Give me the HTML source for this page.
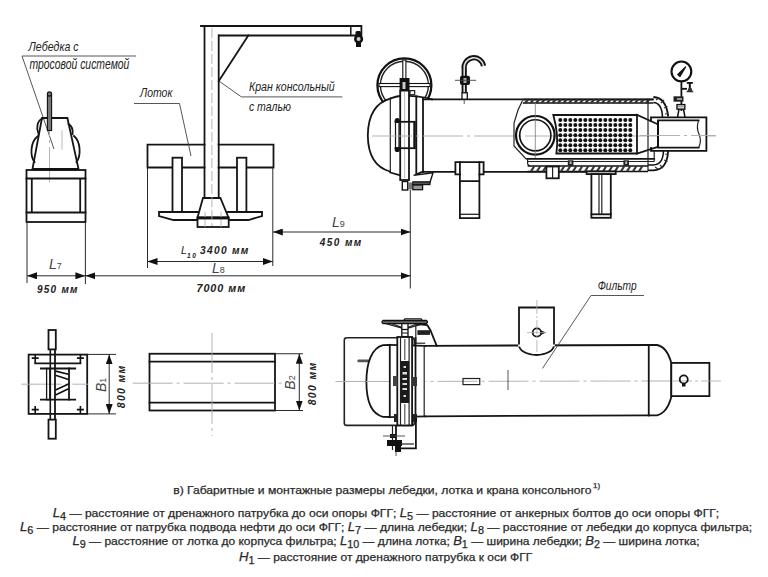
<!DOCTYPE html>
<html><head><meta charset="utf-8">
<style>
html,body{margin:0;padding:0;background:#fff;}
body{width:768px;height:577px;overflow:hidden;position:relative;}
svg{position:absolute;left:0;top:0;}
.t{font-family:"Liberation Sans",sans-serif;}
.k{stroke:#151515;fill:none;stroke-width:1.8;stroke-linecap:square;}
.m{stroke:#222;fill:none;stroke-width:1.2;}
.n{stroke:#444;fill:none;stroke-width:0.9;}
.d{stroke:#2a2a2a;fill:none;stroke-width:1;}
.c{stroke:#aaa;fill:none;stroke-width:0.9;stroke-dasharray:40 4 3 4;}
.lbl{font-family:"Liberation Sans",sans-serif;font-style:italic;font-size:11.5px;fill:#222;}
.dim{font-family:"Liberation Sans",sans-serif;font-style:italic;font-weight:bold;font-size:10px;fill:#222;letter-spacing:1.6px;}
.Ln{font-family:"Liberation Sans",sans-serif;font-style:italic;font-size:14px;fill:#444;}
.cap{font-family:"Liberation Sans",sans-serif;font-size:11.2px;fill:#2a2a2a;stroke:#2a2a2a;stroke-width:0.25px;}
</style></head><body>
<svg width="768" height="577" viewBox="0 0 768 577">
<defs>
<marker id="ae" viewBox="0 0 10 7" refX="10" refY="3.5" markerWidth="10" markerHeight="7" markerUnits="userSpaceOnUse" orient="auto"><path d="M0,0 L10,3.5 L0,7 Z" fill="#111"/></marker>
<marker id="as" viewBox="0 0 10 7" refX="0" refY="3.5" markerWidth="10" markerHeight="7" markerUnits="userSpaceOnUse" orient="auto"><path d="M10,0 L0,3.5 L10,7 Z" fill="#111"/></marker>
</defs>

<!-- ============ WINCH SIDE VIEW ============ -->
<g id="winch">
  <polyline class="n" points="136,56 22,56 54,149"/>
  <text class="lbl" x="28.6" y="50.6" textLength="50" lengthAdjust="spacingAndGlyphs" style="font-size:13px">Лебедка с</text>
  <text class="lbl" x="29.4" y="69.4" textLength="100" lengthAdjust="spacingAndGlyphs" style="font-size:14px">тросовой системой</text>
  <polygon class="k" points="42,118 67.4,118 78.5,168.8 32.5,168.8"/>
  <path class="k" d="M43,118.5 C37,120 36,128 38.5,134 M38,136 C30,142 30,156 34.5,162 M68.5,124 C72,126 73,130 72.5,134 M74,136 C81,142 81,156 76.5,162"/>
  <line class="c" x1="49.5" y1="96" x2="49.5" y2="182"/>
  <line x1="62" y1="130" x2="62" y2="150" stroke="#aaa" stroke-width="0.8"/>
  <rect x="47.4" y="95" width="4.2" height="35.5" fill="#777" stroke="#111" stroke-width="1.1"/>
  <circle cx="49.5" cy="94" r="2.1" fill="#777" stroke="#111" stroke-width="1.1"/>
  <rect class="k" x="26.5" y="170" width="59" height="52"/>
  <line class="k" x1="26.5" y1="178.5" x2="85.5" y2="178.5"/>
  <line class="k" x1="26.5" y1="212.5" x2="85.5" y2="212.5"/>
  <line x1="31.8" y1="178.5" x2="31.8" y2="212.5" stroke="#151515" stroke-width="1.8"/>
  <line x1="80.2" y1="178.5" x2="80.2" y2="212.5" stroke="#151515" stroke-width="1.8"/>
  <line x1="33" y1="169.3" x2="78" y2="169.3" stroke="#111" stroke-width="2.6"/>
</g>

<!-- ============ CRANE + LOTOK SIDE ============ -->
<g id="crane">
  <polyline class="k" points="201,26 361.4,26 361.4,35.5 218.9,35.5"/>
  <line x1="350.8" y1="26" x2="350.8" y2="35.5" stroke="#151515" stroke-width="1.5"/>
  <rect x="355.5" y="31" width="5.5" height="5" rx="1.5" fill="#111"/>
  <rect x="356" y="41" width="5" height="6" fill="#111"/>
  <circle cx="358.6" cy="39" r="3.3" fill="#ccc" stroke="#111" stroke-width="2.6"/>
  <line class="k" x1="248.3" y1="35.5" x2="218.8" y2="81"/>
  <polyline class="n" points="218.8,81 241.4,96.9 342.3,96.9"/>
  <text class="lbl" x="248.9" y="91" textLength="85.7" lengthAdjust="spacingAndGlyphs" style="font-size:12.5px">Кран консольный</text>
  <text class="lbl" x="248.9" y="110.8" textLength="42" lengthAdjust="spacingAndGlyphs" style="font-size:13.5px">с талью</text>
  <!-- lotok rect -->
  <polyline class="k" points="204.5,144.6 147.5,144.6 147.5,167.5 204.5,167.5"/>
  <polyline class="k" points="218.6,144.6 273.5,144.6 273.5,167.5 218.6,167.5"/>
  <polyline class="n" points="134,103.5 179.5,103.5 191,156"/>
  <text class="lbl" x="140" y="97.3" textLength="32.4" lengthAdjust="spacingAndGlyphs" style="font-size:13px">Лоток</text>
  <rect class="k" x="172.5" y="157.7" width="9.5" height="54.3" style="fill:#fff"/>
  <rect class="k" x="237" y="157.7" width="9.4" height="54.3" style="fill:#fff"/>
  <polygon class="k" points="159,212 262,212 262,216 248.5,220 173.5,220 159,216" style="fill:#fff"/>
  <polygon class="k" points="203,198 220.4,198 228.5,217.5 197.5,217.5" style="fill:#fff"/>
  <rect class="k" x="197.5" y="217.5" width="31.2" height="9.5" style="fill:#fff"/><line x1="205" y1="212" x2="205" y2="227" stroke="#aaa" stroke-width="0.8"/><line x1="221" y1="212" x2="221" y2="227" stroke="#aaa" stroke-width="0.8"/>
  <line x1="197.5" y1="218.3" x2="228.7" y2="218.3" stroke="#111" stroke-width="2.2"/>
  <line class="k" x1="204.5" y1="26" x2="204.5" y2="198"/>
  <line class="k" x1="218.7" y1="35.5" x2="218.7" y2="198"/>
  <line x1="211.9" y1="28" x2="211.9" y2="226" stroke="#aaa" stroke-width="0.9" stroke-dasharray="10 3"/>
</g>

<!-- ============ DIMENSIONS ============ -->
<g id="dims">
  <line class="d" x1="27" y1="222" x2="27" y2="283"/>
  <line class="d" x1="85.4" y1="222" x2="85.4" y2="284"/>
  <line class="d" x1="27" y1="275.8" x2="85.4" y2="275.8" marker-start="url(#as)" marker-end="url(#ae)"/>
  <line class="d" x1="85.4" y1="275.8" x2="410.5" y2="275.8" marker-start="url(#as)" marker-end="url(#ae)"/>
  <line class="d" x1="147.5" y1="167.5" x2="147.5" y2="268"/>
  <line class="d" x1="272.8" y1="167.5" x2="272.8" y2="266"/>
  <line class="d" x1="147.5" y1="261.5" x2="272.8" y2="261.5" marker-start="url(#as)" marker-end="url(#ae)"/>
  <line class="d" x1="272.8" y1="232" x2="410.5" y2="232" marker-start="url(#as)" marker-end="url(#ae)"/>
  <line class="d" x1="410.3" y1="190" x2="410.3" y2="288.5"/>
  <text class="Ln" x="49" y="268.5">L<tspan font-size="9" font-style="normal">7</tspan></text>
  <text class="dim" x="37" y="293" textLength="42" lengthAdjust="spacing" style="font-size:10px">950 мм</text>
  <text class="Ln" x="181" y="253.8" style="font-size:10.5px;fill:#222">L</text><text class="dim" x="187" y="257.8" textLength="8.8" lengthAdjust="spacing" style="font-size:6.5px;letter-spacing:0">10</text>
  <text class="dim" x="200" y="253.8" textLength="50" lengthAdjust="spacing" style="font-size:10.2px">3400 мм</text>
  <text class="Ln" x="212" y="273">L<tspan font-size="9" font-style="normal">8</tspan></text>
  <text class="dim" x="196.4" y="292.2" textLength="50.5" lengthAdjust="spacing" style="font-size:10.8px">7000 мм</text>
  <text class="Ln" x="332" y="227">L<tspan font-size="9" font-style="normal">9</tspan></text>
  <text class="dim" x="319.8" y="245.8" textLength="43" lengthAdjust="spacing" style="font-size:10px">450 мм</text>
</g>

<!-- ============ FILTER SIDE VIEW ============ -->
<g id="filter">
  <!-- handwheel -->
  <circle cx="404.4" cy="85.3" r="27" fill="none" stroke="#111" stroke-width="2.2"/>
  <circle cx="404.4" cy="85.3" r="24" fill="none" stroke="#222" stroke-width="1.4"/>
  <rect x="402.8" y="60" width="3.1" height="20" fill="#fff" stroke="#111" stroke-width="1.1"/>
  <rect x="379" y="83.5" width="51" height="3.1" fill="#fff" stroke="#111" stroke-width="1.1"/>
  <rect x="399.6" y="78" width="9.9" height="12.6" fill="#111"/>
  <rect x="402.5" y="82" width="3" height="7" fill="#ccc"/>
  <!-- cover head (white fill hides wheel bottom) -->
  <path d="M372,120 Q376,104 390.8,98.4 Q396,96.5 400,96 L416.8,96.3 Q424,97 432,99.4 L432,175 L379,171 C362,158 364,128 372,120 Z" fill="#fff"/>
  <path class="k" d="M390.8,98.4 C374,103 368,118 367.8,135.5 C368,153 374,167 390,171.5"/>
  <path class="k" d="M390.8,98.4 Q396,96.5 400,96 M409,95.8 L416.8,96.3 Q424,97 432,99.4"/>
  <line class="m" x1="390.3" y1="98.2" x2="390.3" y2="171.8"/>
  <line class="k" x1="416.3" y1="96.3" x2="416.3" y2="178"/>
  <line class="k" x1="423" y1="99" x2="423" y2="172"/>
  <rect class="k" x="400.2" y="90.6" width="8.8" height="89.4" style="fill:#fff"/>
  <line x1="404.6" y1="92" x2="404.6" y2="178" stroke="#bbb" stroke-width="1"/>
  <rect class="m" x="410" y="90.6" width="4.7" height="4.1"/>
  <!-- side hinge -->
  <rect x="395.5" y="121" width="3.5" height="28" fill="#fff" stroke="#111" stroke-width="1.2"/>
  <line class="k" x1="395.5" y1="121.8" x2="414.5" y2="121.8"/>
  <line class="k" x1="395.5" y1="148.2" x2="414.5" y2="148.2"/>
  <line x1="414.5" y1="121" x2="414.5" y2="149" stroke="#111" stroke-width="2.4"/>
  <circle cx="397.3" cy="120.5" r="2.6" fill="#111"/>
  <circle cx="397.3" cy="149.5" r="2.6" fill="#111"/>
  <!-- bottom hardware -->
  <path class="k" d="M390.2,172.5 L399.5,175.2"/>
  <path class="k" d="M416,174.8 Q420,172.5 423,171.7"/>
  <path d="M413.6,175.2 L433,172.9 L430,182.3 L412.8,182.3" fill="#fff" stroke="#151515" stroke-width="1.4"/>
  <rect x="412.8" y="182" width="17.2" height="2.6" fill="#555" stroke="#151515" stroke-width="1.2"/>
  <rect x="412.8" y="185" width="9.8" height="4.7" fill="#999" stroke="#151515" stroke-width="1.3"/>
  <rect x="402.3" y="181.5" width="5.4" height="8.5" fill="#fff" stroke="#151515" stroke-width="1.4"/>
  <rect x="408" y="182.5" width="4" height="7" fill="#777"/>
  <!-- shell -->
  <line class="k" x1="423" y1="99.4" x2="653" y2="99.4"/>
  <line class="k" x1="423" y1="171.8" x2="591" y2="171.8"/>
  <line class="c" x1="372" y1="136" x2="716" y2="136"/>
  <!-- top pipe hook -->
  <path d="M464.2,93 L464.2,69 A9.6,9.6 0 0 1 483.5,66" fill="none" stroke="#111" stroke-width="5.2"/>
  <path d="M464.2,93 L464.2,69 A9.6,9.6 0 0 1 483.5,66" fill="none" stroke="#ddd" stroke-width="1.6"/>
  <rect x="460" y="75.7" width="10" height="9.3" rx="2" fill="#111"/>
  <rect x="463.5" y="78" width="3" height="5" fill="#aaa"/>
  <rect x="462" y="92.8" width="5.3" height="6.4" fill="#fff" stroke="#111" stroke-width="1.3"/>
  <line class="n" x1="454.9" y1="80.3" x2="476.2" y2="80.3"/>
  <line class="n" x1="464.2" y1="100" x2="464.2" y2="104"/>
  <!-- saddle left -->
  <rect x="455.4" y="162.1" width="28.2" height="12.3" fill="#fff"/>
  <path class="k" d="M459.9,174.4 L455.4,174.4 L455.4,162.1 L483.6,162.1 L483.6,174.4 L479.4,174.4"/>
  <path class="k" d="M459.9,162.1 L459.9,218.2 L479.4,218.2 L479.4,162.1 M459.9,181.2 L479.4,181.2"/>
  <line x1="459.9" y1="214.3" x2="479.4" y2="214.3" stroke="#222" stroke-width="1.3"/>
  <!-- cutaway -->
  <polyline class="m" points="522.8,100 518,110 514,123 514,146 526,158.8 527.6,158.8"/>
  <rect x="522.8" y="99.4" width="130.6" height="3.6" fill="#fff"/>
  <line x1="522.8" y1="99.6" x2="653.4" y2="99.6" stroke="#111" stroke-width="1.6"/>
  <line x1="522.8" y1="103" x2="653.4" y2="103" stroke="#111" stroke-width="1.6"/>
  <g id="hatchT" stroke="#333" stroke-width="2.2"><path d="M525.0,103 l3.2,-3.4"/><path d="M530.5,103 l3.2,-3.4"/><path d="M536.0,103 l3.2,-3.4"/><path d="M541.5,103 l3.2,-3.4"/><path d="M547.0,103 l3.2,-3.4"/><path d="M552.5,103 l3.2,-3.4"/><path d="M558.0,103 l3.2,-3.4"/><path d="M563.5,103 l3.2,-3.4"/><path d="M569.0,103 l3.2,-3.4"/><path d="M574.5,103 l3.2,-3.4"/><path d="M580.0,103 l3.2,-3.4"/><path d="M585.5,103 l3.2,-3.4"/><path d="M591.0,103 l3.2,-3.4"/><path d="M596.5,103 l3.2,-3.4"/><path d="M602.0,103 l3.2,-3.4"/><path d="M607.5,103 l3.2,-3.4"/><path d="M613.0,103 l3.2,-3.4"/><path d="M618.5,103 l3.2,-3.4"/><path d="M624.0,103 l3.2,-3.4"/><path d="M629.5,103 l3.2,-3.4"/><path d="M635.0,103 l3.2,-3.4"/><path d="M640.5,103 l3.2,-3.4"/><path d="M646.0,103 l3.2,-3.4"/></g>
  <!-- nozzle ring -->
  <circle cx="535.3" cy="135.3" r="19.3" fill="none" stroke="#111" stroke-width="2.2"/>
  <circle cx="535.3" cy="135.3" r="15.6" fill="none" stroke="#111" stroke-width="1.6"/>
  <line x1="535.3" y1="103" x2="535.3" y2="159" stroke="#777" stroke-width="0.8"/>
  <!-- perforated block -->
  <path class="k" d="M553.3,115 L637,115 L637,153.5 L556.4,153.5 Q559,135 553.3,115 Z"/>
  <path class="k" d="M637,114.8 L657.7,124.3 M637,153.5 L657.7,147"/>
  <g id="dots" fill="#111"><circle cx="560.3" cy="120.0" r="2"/><circle cx="560.3" cy="125.0" r="2"/><circle cx="560.3" cy="130.1" r="2"/><circle cx="560.3" cy="135.2" r="2"/><circle cx="560.3" cy="140.2" r="2"/><circle cx="560.3" cy="145.2" r="2"/><circle cx="560.3" cy="150.3" r="2"/><circle cx="565.3" cy="120.0" r="2"/><circle cx="565.3" cy="125.0" r="2"/><circle cx="565.3" cy="130.1" r="2"/><circle cx="565.3" cy="135.2" r="2"/><circle cx="565.3" cy="140.2" r="2"/><circle cx="565.3" cy="145.2" r="2"/><circle cx="565.3" cy="150.3" r="2"/><circle cx="570.3" cy="120.0" r="2"/><circle cx="570.3" cy="125.0" r="2"/><circle cx="570.3" cy="130.1" r="2"/><circle cx="570.3" cy="135.2" r="2"/><circle cx="570.3" cy="140.2" r="2"/><circle cx="570.3" cy="145.2" r="2"/><circle cx="570.3" cy="150.3" r="2"/><circle cx="575.3" cy="120.0" r="2"/><circle cx="575.3" cy="125.0" r="2"/><circle cx="575.3" cy="130.1" r="2"/><circle cx="575.3" cy="135.2" r="2"/><circle cx="575.3" cy="140.2" r="2"/><circle cx="575.3" cy="145.2" r="2"/><circle cx="575.3" cy="150.3" r="2"/><circle cx="580.3" cy="120.0" r="2"/><circle cx="580.3" cy="125.0" r="2"/><circle cx="580.3" cy="130.1" r="2"/><circle cx="580.3" cy="135.2" r="2"/><circle cx="580.3" cy="140.2" r="2"/><circle cx="580.3" cy="145.2" r="2"/><circle cx="580.3" cy="150.3" r="2"/><circle cx="585.3" cy="120.0" r="2"/><circle cx="585.3" cy="125.0" r="2"/><circle cx="585.3" cy="130.1" r="2"/><circle cx="585.3" cy="135.2" r="2"/><circle cx="585.3" cy="140.2" r="2"/><circle cx="585.3" cy="145.2" r="2"/><circle cx="585.3" cy="150.3" r="2"/><circle cx="590.3" cy="120.0" r="2"/><circle cx="590.3" cy="125.0" r="2"/><circle cx="590.3" cy="130.1" r="2"/><circle cx="590.3" cy="135.2" r="2"/><circle cx="590.3" cy="140.2" r="2"/><circle cx="590.3" cy="145.2" r="2"/><circle cx="590.3" cy="150.3" r="2"/><circle cx="595.3" cy="120.0" r="2"/><circle cx="595.3" cy="125.0" r="2"/><circle cx="595.3" cy="130.1" r="2"/><circle cx="595.3" cy="135.2" r="2"/><circle cx="595.3" cy="140.2" r="2"/><circle cx="595.3" cy="145.2" r="2"/><circle cx="595.3" cy="150.3" r="2"/><circle cx="600.3" cy="120.0" r="2"/><circle cx="600.3" cy="125.0" r="2"/><circle cx="600.3" cy="130.1" r="2"/><circle cx="600.3" cy="135.2" r="2"/><circle cx="600.3" cy="140.2" r="2"/><circle cx="600.3" cy="145.2" r="2"/><circle cx="600.3" cy="150.3" r="2"/><circle cx="605.3" cy="120.0" r="2"/><circle cx="605.3" cy="125.0" r="2"/><circle cx="605.3" cy="130.1" r="2"/><circle cx="605.3" cy="135.2" r="2"/><circle cx="605.3" cy="140.2" r="2"/><circle cx="605.3" cy="145.2" r="2"/><circle cx="605.3" cy="150.3" r="2"/><circle cx="610.3" cy="120.0" r="2"/><circle cx="610.3" cy="125.0" r="2"/><circle cx="610.3" cy="130.1" r="2"/><circle cx="610.3" cy="135.2" r="2"/><circle cx="610.3" cy="140.2" r="2"/><circle cx="610.3" cy="145.2" r="2"/><circle cx="610.3" cy="150.3" r="2"/><circle cx="615.3" cy="120.0" r="2"/><circle cx="615.3" cy="125.0" r="2"/><circle cx="615.3" cy="130.1" r="2"/><circle cx="615.3" cy="135.2" r="2"/><circle cx="615.3" cy="140.2" r="2"/><circle cx="615.3" cy="145.2" r="2"/><circle cx="615.3" cy="150.3" r="2"/><circle cx="620.3" cy="120.0" r="2"/><circle cx="620.3" cy="125.0" r="2"/><circle cx="620.3" cy="130.1" r="2"/><circle cx="620.3" cy="135.2" r="2"/><circle cx="620.3" cy="140.2" r="2"/><circle cx="620.3" cy="145.2" r="2"/><circle cx="620.3" cy="150.3" r="2"/><circle cx="625.3" cy="120.0" r="2"/><circle cx="625.3" cy="125.0" r="2"/><circle cx="625.3" cy="130.1" r="2"/><circle cx="625.3" cy="135.2" r="2"/><circle cx="625.3" cy="140.2" r="2"/><circle cx="625.3" cy="145.2" r="2"/><circle cx="625.3" cy="150.3" r="2"/><circle cx="630.3" cy="120.0" r="2"/><circle cx="630.3" cy="125.0" r="2"/><circle cx="630.3" cy="130.1" r="2"/><circle cx="630.3" cy="135.2" r="2"/><circle cx="630.3" cy="140.2" r="2"/><circle cx="630.3" cy="145.2" r="2"/><circle cx="630.3" cy="150.3" r="2"/></g>
  <!-- bottom internals -->
  <line class="k" x1="527.6" y1="158.9" x2="654.2" y2="158.9"/>
  <line class="m" x1="527.6" y1="161.5" x2="654.2" y2="161.5"/>
  <path class="m" d="M527.6,158.9 L527.6,164 L529.5,166"/>
  <line x1="527.6" y1="165.9" x2="648" y2="165.9" stroke="#111" stroke-width="1.5"/>
  <line x1="527.6" y1="171.5" x2="648" y2="171.5" stroke="#111" stroke-width="1.6"/>
  <g id="hatchB" stroke="#333" stroke-width="2"><path d="M531.0,171.4 l3.4,-5.4"/><path d="M537.0,171.4 l3.4,-5.4"/><path d="M543.0,171.4 l3.4,-5.4"/><path d="M549.0,171.4 l3.4,-5.4"/><path d="M555.0,171.4 l3.4,-5.4"/><path d="M561.0,171.4 l3.4,-5.4"/><path d="M567.0,171.4 l3.4,-5.4"/><path d="M573.0,171.4 l3.4,-5.4"/><path d="M579.0,171.4 l3.4,-5.4"/><path d="M585.0,171.4 l3.4,-5.4"/><path d="M591.0,171.4 l3.4,-5.4"/><path d="M597.0,171.4 l3.4,-5.4"/><path d="M603.0,171.4 l3.4,-5.4"/><path d="M609.0,171.4 l3.4,-5.4"/><path d="M615.0,171.4 l3.4,-5.4"/><path d="M621.0,171.4 l3.4,-5.4"/><path d="M627.0,171.4 l3.4,-5.4"/><path d="M633.0,171.4 l3.4,-5.4"/><path d="M639.0,171.4 l3.4,-5.4"/></g>
  <rect x="567.8" y="160.3" width="5.6" height="5.5" fill="#222"/>
  <rect x="569.6" y="161.5" width="2" height="2.5" fill="#bbb"/>
  <rect x="623.4" y="160.3" width="5.6" height="5.5" fill="#222"/>
  <rect x="625.2" y="161.5" width="2" height="2.5" fill="#bbb"/>
  <rect class="k" x="546.4" y="166.5" width="12.4" height="11.8" style="fill:#fff"/>
  <line class="m" x1="552.6" y1="166.5" x2="552.6" y2="178.3"/>
  <!-- right head -->
  <line class="m" x1="648" y1="98.6" x2="648" y2="171.1"/>
  <line class="m" x1="654.2" y1="150.8" x2="654.2" y2="161.5"/>
  <path d="M653.4,97 Q666,97.5 668.2,116.5" fill="none" stroke="#111" stroke-width="1.8"/>
  <path d="M653.4,102.6 Q662,103 662.5,117.3" fill="none" stroke="#111" stroke-width="1.5"/>
  <path d="M668.2,150.8 Q667,170.3 653.4,170.3 L648,170.3" fill="none" stroke="#111" stroke-width="1.8"/>
  <path d="M663.5,150.8 Q663,164.9 653.4,164.9 L648,164.9" fill="none" stroke="#111" stroke-width="1.5"/>
  <path d="M656,100 l3,-2 M661,103 l3,-3 M664,108 l3.5,-1.5 M665,114 l3,-0.5 M665,154 l3,0.5 M664,160 l3.5,1.5 M660,165 l3,3 M655,167 l3,2" stroke="#333" stroke-width="1.2"/>
  <!-- outlet pipe -->
  <rect x="658" y="117.3" width="48.4" height="33.5" fill="#fff" stroke="none"/><path d="M651,121.5 L651,117.3 L706.4,117.3 L706.4,150.8 L651,150.8 L651,147" fill="none" stroke="#111" stroke-width="1.8"/>
  <line class="k" x1="658" y1="120.4" x2="698.6" y2="120.4"/>
  <line class="k" x1="658" y1="147.7" x2="698.6" y2="147.7"/>
  <line x1="658" y1="120.4" x2="658" y2="147.7" stroke="#111" stroke-width="2"/>
  <path class="m" d="M698.6,120.4 Q696,128 699,134 Q702,141 698.6,147.7"/>
  <line class="c" x1="640" y1="135.5" x2="716" y2="135.5"/>
  <!-- gauge -->
  <circle cx="681.4" cy="71.4" r="9.9" fill="#fff" stroke="#111" stroke-width="2.1"/>
  <path d="M677.8,74.5 L685.6,67 L680,76.5 Z" fill="#111" stroke="#111" stroke-width="1.2" stroke-linejoin="round"/>
  <line x1="681.4" y1="81.5" x2="681.4" y2="111" stroke="#111" stroke-width="1.8"/>
  <line x1="681.4" y1="88.8" x2="687" y2="88.8" stroke="#111" stroke-width="1.8"/>
  <rect x="686.8" y="82" width="6" height="1.8" fill="#111"/>
  <rect x="688.8" y="83" width="2" height="5" fill="#111"/>
  <path d="M686,92.2 L693.8,92.2 L690,87.7 Z" fill="#333"/>
  <circle cx="690" cy="90" r="2.2" fill="#333"/>
  <rect x="673.5" y="96.3" width="10" height="5.4" fill="#222"/>
  <rect x="677" y="98" width="5" height="2" fill="#999"/>
  <rect x="677" y="104.6" width="7.8" height="4.5" fill="#fff" stroke="#111" stroke-width="1.4"/>
  <line x1="677" y1="106.8" x2="684.8" y2="106.8" stroke="#555" stroke-width="0.8"/>
  <path d="M679,109 L677.5,117.3 M683.5,109 L685,117.3" stroke="#111" stroke-width="1.5"/>
  <!-- right support leg -->
  <rect class="k" x="586.6" y="171.4" width="29.1" height="2.7" style="fill:#fff"/>
  <rect class="k" x="591.4" y="174.1" width="19.4" height="43.7"/>
  <line class="m" x1="599" y1="174.1" x2="599" y2="214.3"/>
  <line class="m" x1="601.8" y1="174.1" x2="601.8" y2="214.3"/>
  <line class="k" x1="591.4" y1="214.3" x2="610.8" y2="214.3"/>
</g>


<!-- ============ PLAN VIEWS ============ -->
<g id="plan-winch">
  <rect class="k" x="28.6" y="354.6" width="58.6" height="59.3"/>
  <line class="c" x1="21.4" y1="384.2" x2="88" y2="384.2"/>
  <line class="k" x1="35.2" y1="363.3" x2="80.4" y2="363.3"/>
  <line class="k" x1="40.9" y1="368.5" x2="75.2" y2="368.5"/>
  <line class="k" x1="40.9" y1="399.7" x2="75.2" y2="399.7"/>
  <rect x="46.6" y="368.5" width="3.2" height="31.2" fill="none" stroke="#151515" stroke-width="1.3"/>
  <line class="k" x1="69" y1="368.5" x2="69" y2="399.7"/>
  <path d="M55.5,371.1 L68.5,374.2 M55.5,375.3 L68.5,379.4 M55.5,395 L68.5,388.8 M55.5,390 L68.5,384" stroke="#111" stroke-width="1.6"/>
  <path d="M31.7,358.1 h7 M35.2,354.6 v8.7 M76.9,358.1 h7 M80.4,354.6 v8.7 M31.7,409.6 h7 M35.2,406 v7.9 M76.9,409.6 h7 M80.4,406 v7.9" stroke="#111" stroke-width="1.6" fill="none"/>
  <rect class="k" x="48.5" y="330" width="7.3" height="19.4" style="fill:#fff"/>
  <line x1="50.3" y1="349.4" x2="50.3" y2="419.6" stroke="#151515" stroke-width="1.6"/>
  <line x1="55" y1="349.4" x2="55" y2="419.6" stroke="#151515" stroke-width="1.8"/>
  <rect class="k" x="48.5" y="419.6" width="7.3" height="19.1" style="fill:#fff"/>
  <line class="d" x1="87.2" y1="354.4" x2="116" y2="354.4"/>
  <line class="d" x1="87.2" y1="413.9" x2="116" y2="413.9"/>
  <line class="d" x1="109.2" y1="354.4" x2="109.2" y2="413.9" marker-start="url(#as)" marker-end="url(#ae)"/>
  <text class="Ln" transform="translate(106.3 392) rotate(-90)">B<tspan font-size="9" font-style="normal">1</tspan></text>
  <text class="dim" transform="translate(125.4 408.2) rotate(-90)" textLength="44" lengthAdjust="spacing" style="font-size:10.5px">800 мм</text>
</g>

<g id="plan-lotok">
  <rect class="k" x="149.5" y="353.75" width="125.5" height="56.75"/>
  <line class="k" x1="149.5" y1="361.6" x2="275" y2="361.6"/>
  <line class="k" x1="149.5" y1="402.7" x2="275" y2="402.7"/>
  <line class="c" x1="212" y1="333" x2="212" y2="436"/>
  <line class="c" x1="132.6" y1="383.2" x2="283.6" y2="383.2"/>
  <line class="d" x1="275" y1="353.75" x2="303" y2="353.75"/>
  <line class="d" x1="275" y1="410.5" x2="303" y2="410.5"/>
  <line class="d" x1="299.3" y1="353.75" x2="299.3" y2="410.5" marker-start="url(#as)" marker-end="url(#ae)"/>
  <text class="Ln" transform="translate(295 389.7) rotate(-90)">B<tspan font-size="9" font-style="normal">2</tspan></text>
  <text class="dim" transform="translate(316.2 405.3) rotate(-90)" textLength="44.3" lengthAdjust="spacing" style="font-size:10.5px">800 мм</text>
</g>

<g id="plan-filter">
  <rect x="344.3" y="337.8" width="70" height="87.6" rx="2.5" fill="none" stroke="#222" stroke-width="1.6"/>
  <line class="c" x1="335.5" y1="381.5" x2="672" y2="381"/>
  <!-- head dome -->
  <rect x="357.3" y="359.5" width="12.5" height="2.8" rx="1.4" fill="#555"/>
  <path class="k" d="M390.3,345 L383,345.2 C372,348 366.4,362 366.4,382 C366.4,402 372,414 383,416.8 L390.3,417 Z" style="fill:#fff"/>
  <line class="c" x1="366" y1="381.5" x2="397" y2="381.5"/>
  
  <!-- flange body -->
  <path d="M389.8,344.8 L425.4,345.8 L425.4,416.3 L389.8,417.2 Z" fill="#fff"/><path class="k" d="M389.8,344.8 L425.4,345.8 M389.8,417.2 L425.4,416.3"/>
  <line class="k" x1="389.8" y1="344.8" x2="389.8" y2="417.2"/>
  
  <line class="k" x1="415.5" y1="338" x2="415.5" y2="419"/>
  <line class="m" x1="424.2" y1="345.8" x2="424.2" y2="416.3"/>
  <!-- clamp -->
  <rect class="k" x="397.3" y="337" width="14.8" height="88.4" style="fill:#fff"/>
  <line class="m" x1="400.5" y1="337" x2="400.5" y2="425.4"/>
  <line class="m" x1="409.1" y1="337" x2="409.1" y2="425.4"/>
  <rect x="400.5" y="361" width="8.6" height="42" fill="#1a1a1a"/>
  <path d="M402.5,372 h4.5 v2.5 h-4.5z M402.5,378 h4.5 v2 h-4.5z M402.5,383 h4.5 v2 h-4.5z M402.5,388 h4.5 v2 h-4.5z M403.5,366 h2.5 v2 h-2.5z M403.5,395 h2.5 v2 h-2.5z" fill="#ddd"/>
  <line x1="404.8" y1="339" x2="404.8" y2="360" stroke="#666" stroke-width="1.3"/>
  <line x1="404.8" y1="404" x2="404.8" y2="424" stroke="#666" stroke-width="1.3"/>
  <rect x="412" y="377" width="5" height="9" fill="#333"/>
  <rect x="393" y="376" width="4.5" height="10" fill="#444"/>
  <path d="M394,414 h4 v8 h-4z M413,414 h4 v8 h-4z" fill="#222"/>
  <!-- shell -->
  <line class="k" x1="425.4" y1="345.8" x2="648.75" y2="345"/>
  <line class="k" x1="425.4" y1="416.3" x2="648.75" y2="415.3"/>
  <!-- wheel -->
  <path d="M383,320.5 L426.5,320.5 Q428.5,322 426.5,323.6 L383,323.6 Q381,322 383,320.5 Z" fill="#666" stroke="#111" stroke-width="1.3"/>
  <path d="M404,320 L405,318.8 L421,318.8 L422,320" fill="none" stroke="#111" stroke-width="1.3"/>
  <path d="M386,323.6 L402,328.3 M423.5,323.6 L408,328.3 M391,323.6 L402,327.3 M418,323.6 L408,327.3" stroke="#222" stroke-width="1.1" fill="none"/>
  <rect x="401.8" y="323.6" width="6.2" height="13" fill="#fff" stroke="#111" stroke-width="1.3"/>
  <line x1="401.8" y1="329.5" x2="408" y2="329.5" stroke="#111" stroke-width="1.3"/>
  <line x1="401.8" y1="333" x2="408" y2="333" stroke="#111" stroke-width="1"/>
  <!-- right bracket -->
  <polyline class="k" points="415.8,324 427.3,325 430.4,330.2 436.7,345.8"/>
  <rect x="417.4" y="330.2" width="12.6" height="4.7" fill="#222"/>
  <line class="m" x1="415.8" y1="343.2" x2="425.2" y2="343.2"/>
  <line class="m" x1="415.8" y1="324" x2="415.8" y2="343.2"/>
  <!-- lower bracket / drain -->
  <polyline class="k" points="396,426 396,448.3 415.9,448.3 415.9,419"/>
  <line class="m" x1="392.5" y1="425" x2="392.5" y2="450"/>
  <path d="M387,440 h15 v6 h-15z M390,434 h6 v4 h-6z M395,446 h6 v6 h-6z" fill="#111"/>
  <line class="m" x1="401" y1="444" x2="414" y2="444"/>
  <line class="n" x1="383" y1="436" x2="405" y2="436"/>
  <line class="n" x1="396" y1="452" x2="396" y2="456"/>
  <!-- slot -->
  <rect class="m" x="463" y="378.5" width="16.75" height="6.1"/>
  <!-- top nozzle -->
  <path class="k" d="M519,345 L519,307.5 L554,307.5 L554,345 A17.5,10 0 0 1 519,345" style="fill:#fff"/>
  <line class="k" x1="519" y1="345.5" x2="554" y2="345.3" style="stroke:#fff" stroke-width="1"/>
  <circle class="k" cx="536.9" cy="332.5" r="4.2" stroke-width="1.5"/>
  <path d="M540.5,330.3 L546,332.6 L540.5,334.9 Z" fill="#111"/>
  <line x1="536.9" y1="300" x2="536.9" y2="352" stroke="#aaa" stroke-width="0.8" stroke-dasharray="14 2 2 2"/><line x1="527" y1="332.6" x2="546" y2="332.6" stroke="#aaa" stroke-width="0.8"/>
  <!-- leader filter -->
  <polyline class="n" points="644,295.5 591,295.5 542.5,368.4"/>
  <text class="lbl" x="597.7" y="289.8" textLength="39" lengthAdjust="spacingAndGlyphs" style="font-size:12.5px">Фильтр</text>
  <line class="n" x1="508" y1="370" x2="508" y2="390"/>
  <!-- right end -->
  <line class="k" x1="648.75" y1="345" x2="648.75" y2="415.3"/>
  <path class="k" d="M648.75,345 L657,345 Q667,347 671.3,363 L671.3,397 Q667,413 657,415.3 L648.75,415.3"/>
  <rect class="k" x="671.3" y="362.9" width="38.1" height="33.2" style="fill:#fff"/><line x1="672" y1="381" x2="722" y2="381" stroke="#aaa" stroke-width="0.8" stroke-dasharray="20 3 3 3"/>
  <circle class="k" cx="683.75" cy="379.4" r="4" stroke-width="1.5"/>
  <rect x="682" y="383" width="3.5" height="3.5" fill="#111"/>
</g>

<!-- ============ CAPTION ============ -->
<g class="cap">
  <text x="173.2" y="493.6" textLength="418.3" lengthAdjust="spacingAndGlyphs">в) Габаритные и монтажные размеры лебедки, лотка и крана консольного</text>
  <text x="593" y="488" font-size="8">1)</text>
  <text x="52.7" y="516.7" textLength="666.5" lengthAdjust="spacingAndGlyphs"><tspan font-style="italic" font-size="12.2">L</tspan><tspan font-size="10" dy="3">4</tspan><tspan dy="-3"> — расстояние от дренажного патрубка до оси опоры ФГГ; </tspan><tspan font-style="italic" font-size="12.2">L</tspan><tspan font-size="10" dy="3">5</tspan><tspan dy="-3"> — расстояние от анкерных болтов до оси опоры ФГГ;</tspan></text>
  <text x="20" y="531" textLength="732" lengthAdjust="spacingAndGlyphs"><tspan font-style="italic" font-size="12.2">L</tspan><tspan font-size="10" dy="3">6</tspan><tspan dy="-3"> — расстояние от патрубка подвода нефти до оси ФГГ;  </tspan><tspan font-style="italic" font-size="12.2">L</tspan><tspan font-size="10" dy="3">7</tspan><tspan dy="-3"> — длина лебедки; </tspan><tspan font-style="italic" font-size="12.2">L</tspan><tspan font-size="10" dy="3">8</tspan><tspan dy="-3"> — расстояние от лебедки до корпуса фильтра;</tspan></text>
  <text x="72.5" y="545.1" textLength="627" lengthAdjust="spacingAndGlyphs"><tspan font-style="italic" font-size="12.2">L</tspan><tspan font-size="10" dy="3">9</tspan><tspan dy="-3"> — расстояние от лотка до корпуса фильтра; </tspan><tspan font-style="italic" font-size="12.2">L</tspan><tspan font-size="10" dy="3">10</tspan><tspan dy="-3"> — длина лотка; </tspan><tspan font-style="italic" font-size="12.2">B</tspan><tspan font-size="10" dy="3">1</tspan><tspan dy="-3"> — ширина лебедки; </tspan><tspan font-style="italic" font-size="12.2">B</tspan><tspan font-size="10" dy="3">2</tspan><tspan dy="-3"> — ширина лотка;</tspan></text>
  <text x="239" y="560.6" textLength="293.3" lengthAdjust="spacingAndGlyphs"><tspan font-style="italic" font-size="12.2">H</tspan><tspan font-size="10" dy="3">1</tspan><tspan dy="-3"> — расстояние от дренажного патрубка к оси ФГГ</tspan></text>
</g>
</svg>
</body></html>
